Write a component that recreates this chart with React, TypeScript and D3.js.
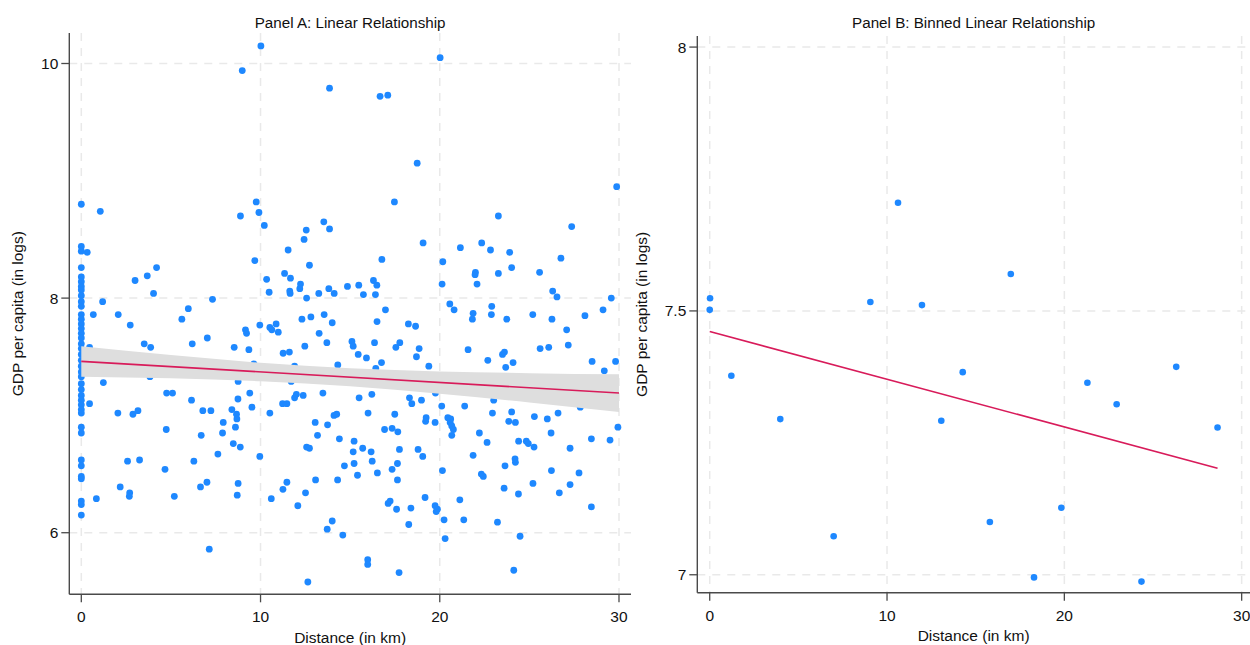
import { useEffect } from 'react';
import * as d3 from 'd3';

// Panel A: raw observations (distance in km, log GDP per capita)
const distA = [
  0, 0, 0, 0, 0, 0, 0, 0, 0, 0, 0, 0, 0, 0, 0, 0, 0, 0, 0, 0,
  0, 0, 0, 0, 0, 0, 0, 0, 0, 0, 0, 0, 0, 0, 0, 0, 0, 0, 0, 0,
  8.98, 1.06, 8.88, 9.76, 0.33, 9.68, 3.0, 3.68, 4.2, 4.03, 1.19, 7.32, 5.97, 0.67, 2.06, 5.61,
  2.73, 9.16, 9.22, 7.03, 3.51, 3.87, 6.19, 8.53, 9.35, 0.46, 1.23, 3.83, 8.75, 4.76, 5.09, 6.15, 8.74,
  9.4, 9.52, 0.46, 6.78, 7.23, 8.4, 8.66, 8.68, 2.04, 2.88, 3.16, 7.92, 8.6, 4.74, 7.88, 6.69, 8.48,
  8.87, 7.62, 2.58, 3.25, 6.28, 4.67, 2.17, 2.7, 2.68, 6.65, 7.01, 8.75, 8.7, 5.19, 0.84, 7.14,
  10.02, 20.02, 13.85, 16.67, 17.1, 18.74, 9.91, 10.21, 17.47, 13.53, 12.55, 13.85, 12.43, 11.54,
  19.07, 16.77, 12.73, 20.17, 10.34, 11.34, 11.67, 12.23, 12.19, 11.63, 11.65, 10.48, 12.57, 13.25,
  13.81, 14.11, 14.85, 15.48, 15.74, 16.3, 16.49, 16.41, 20.13, 16.97, 12.31, 12.81, 13.55, 16.5,
  9.96, 10.52, 10.63, 10.87, 10.99, 14.0, 13.27, 13.7, 12.47, 11.26, 11.61, 15.1, 15.17, 15.45, 15.91,
  16.36, 16.75, 17.55, 17.77, 18.25, 18.65, 18.85, 18.7, 19.39, 14.31, 16.43, 11.9, 9.63, 11.71, 11.9,
  12.0, 12.38, 11.23, 11.47, 13.48, 15.5, 16.21, 18.31, 18.44, 18.98, 19.76, 20.11, 10.52, 14.1, 14.25,
  16.0, 17.49, 19.24, 19.21, 19.74, 13.05, 13.74, 13.18, 16.92, 17.34, 17.66, 14.4, 15.22, 12.57, 12.73,
  15.7, 17.75, 18.79, 19.05, 9.96, 15.17, 16.17, 16.23, 15.22, 14.68, 17.64, 17.34, 15.41, 16.52, 13.07,
  14.3, 17.64, 20.15, 11.47, 11.25, 12.51, 10.6, 12.08, 19.18, 17.12, 17.23, 17.59, 18.39, 19.74, 19.87,
  19.8, 14.0, 13.72, 18.27, 14.59, 20.24, 20.3, 15.98, 15.98, 17.73, 12.64,
  29.87, 23.27, 27.36, 22.34, 21.15, 22.83, 23.9, 26.76, 24.01, 21.99, 21.97, 23.27, 25.57, 22.08,
  26.3, 26.54, 29.57, 20.56, 20.8, 22.9, 21.86, 21.82, 22.88, 23.74, 25.19, 26.26, 28.1, 29.11,
  27.08, 27.17, 21.58, 23.5, 23.61, 25.6, 26.08, 22.68, 24.09, 23.68, 28.5, 29.81, 29.18, 21.39, 23.01,
  27.84, 22.94, 24.01, 25.28, 26.0, 26.6, 20.45, 20.61, 20.58, 20.67, 20.76, 20.67, 23.85, 24.22, 29.94,
  22.21, 26.21, 22.64, 24.4, 24.83, 24.94, 25.26, 28.46, 29.5, 27.27, 21.86, 24.2, 24.22, 23.64, 22.32,
  22.43, 26.23, 27.77, 25.2, 27.27, 23.59, 24.39, 26.67, 21.12, 28.46, 21.34, 23.22, 24.48, 24.13,
];
const gdpA = [
  8.80, 8.44, 8.40, 8.26, 8.18, 8.14, 8.10, 8.07, 8.02, 7.97, 7.93, 7.86, 7.82, 7.78, 7.74, 7.70, 7.66, 7.61, 7.57, 7.52,
  7.47, 7.42, 7.37, 7.33, 7.27, 7.22, 7.17, 7.13, 7.09, 7.05, 7.02, 6.90, 6.85, 6.62, 6.57, 6.48, 6.46, 6.27, 6.24, 6.15,
  9.94, 8.74, 8.70, 8.82, 8.39, 8.32, 8.15, 8.19, 8.26, 8.04, 7.97, 7.99, 7.91, 7.86, 7.86, 7.82,
  7.77, 7.73, 7.70, 7.66, 7.61, 7.58, 7.61, 7.58, 7.56, 7.58, 7.28, 7.33, 7.29, 7.19, 7.19, 7.13, 7.14,
  7.19, 7.07, 7.10, 7.04, 7.04, 7.05, 7.01, 6.97, 7.02, 7.01, 7.04, 6.94, 6.90, 6.88, 6.85, 6.83, 6.76,
  6.73, 6.67, 6.61, 6.62, 6.61, 6.54, 6.39, 6.34, 6.31, 6.39, 6.43, 6.42, 6.32, 6.31, 6.29, 5.86,
  10.15, 10.05, 9.79, 9.72, 9.73, 9.15, 8.73, 8.62, 8.82, 8.65, 8.58, 8.59, 8.50, 8.41,
  8.47, 8.33, 8.28, 8.31, 8.16, 8.21, 8.17, 8.12, 8.08, 8.06, 8.04, 8.05, 8.00, 8.04,
  8.08, 8.04, 8.10, 8.11, 8.03, 8.15, 8.11, 8.03, 8.12, 7.90, 7.82, 7.84, 7.86, 7.80,
  7.77, 7.75, 7.73, 7.78, 7.71, 7.79, 7.70, 7.62, 7.59, 7.53, 7.54, 7.63, 7.59, 7.52, 7.49,
  7.62, 7.45, 7.58, 7.62, 7.78, 7.76, 7.57, 7.50, 7.42, 7.43, 7.40, 7.42, 7.44, 7.29, 7.15,
  7.18, 7.17, 7.10, 7.10, 7.19, 7.15, 7.18, 7.15, 7.10, 7.13, 7.19, 7.08, 7.02, 7.00, 7.01,
  7.02, 7.01, 6.98, 6.95, 6.94, 6.94, 6.92, 6.83, 6.88, 6.89, 6.86, 6.80, 6.78, 6.73, 6.72,
  6.72, 6.71, 6.71, 6.65, 6.65, 6.69, 6.69, 6.61, 6.59, 6.57, 6.59, 6.54, 6.49, 6.51, 6.45,
  6.45, 6.45, 6.53, 6.43, 6.37, 6.34, 6.29, 6.23, 6.30, 6.25, 6.27, 6.20, 6.21, 6.23, 6.20,
  6.18, 6.10, 6.03, 6.07, 5.98, 6.11, 5.95, 5.77, 5.73, 5.66, 5.58,
  8.95, 8.70, 8.61, 8.47, 8.43, 8.41, 8.39, 8.34, 8.26, 8.22, 8.20, 8.21, 8.22, 8.12,
  8.06, 8.01, 8.00, 7.95, 7.90, 7.93, 7.87, 7.82, 7.86, 7.82, 7.86, 7.82, 7.85, 7.90,
  7.73, 7.60, 7.56, 7.52, 7.54, 7.57, 7.58, 7.47, 7.45, 7.41, 7.46, 7.46, 7.38, 7.08, 7.13,
  7.07, 7.02, 7.03, 6.99, 6.97, 7.02, 6.98, 6.97, 6.94, 6.91, 6.88, 6.83, 6.95, 6.94, 6.90,
  6.85, 6.85, 6.77, 6.78, 6.78, 6.76, 6.73, 6.80, 6.79, 6.72, 6.66, 6.63, 6.60, 6.57, 6.50,
  6.48, 6.53, 6.51, 6.42, 6.41, 6.38, 6.33, 6.34, 6.28, 6.22, 6.11, 6.09, 5.97, 5.68,
];

// Panel A: fitted line and 95% confidence band
const fitAx = [0, 30];
const fitAy = [7.461, 7.191];
const bandX = [0, 5, 10, 15, 20, 25, 30];
const bandLo = [7.33, 7.316, 7.291, 7.248, 7.185, 7.11, 7.03];
const bandHi = [7.59, 7.514, 7.449, 7.402, 7.375, 7.36, 7.35];

// Panel B: binned means
const distB = [0.02, 0, 1.22, 3.98, 6.99, 9.06, 10.62, 11.97, 13.06, 14.27, 15.8, 16.98, 18.29, 19.83, 21.3, 22.95, 24.35, 26.31, 28.64];
const gdpB = [7.524, 7.502, 7.377, 7.295, 7.073, 7.517, 7.705, 7.511, 7.292, 7.384, 7.1, 7.57, 6.995, 7.127, 7.364, 7.323, 6.987, 7.394, 7.279];
const fitBx = [0, 28.64];
const fitBy = [7.461, 7.202];

const xTicks = [0, 10, 20, 30];
const yTicksA = [6, 8, 10];
const yTicksB = [7, 7.5, 8];

const DOT = '#1e88ff';
const FIT = '#d81b5a';
const AXIS = '#4a4a4a';
const GRID = '#e9e9e9';
const FONT = 'Liberation Sans, Arial, sans-serif';

type PanelProps = {
  title: string;
  left: number; right: number; top: number; bottom: number;
  xDomain: [number, number]; yDomain: [number, number];
  yTicks: number[]; yFmt: (v: number) => string;
  xs: number[]; ys: number[];
  fitX: number[]; fitY: number[];
  band?: boolean;
  yLabelX: number;
  r: number;
};

function Panel(p: PanelProps) {
  const x = d3.scaleLinear().domain(p.xDomain).range([p.left, p.right]);
  const y = d3.scaleLinear().domain(p.yDomain).range([p.bottom, p.top]);
  const pts = p.xs.map((d, i) => [d, p.ys[i]]);
  const area = d3.area<number>()
    .x((d) => x(d))
    .y0((_, i) => y(bandLo[i]))
    .y1((_, i) => y(bandHi[i]))
    .curve(d3.curveMonotoneX);
  const line = d3.line<number>().x((d) => x(d)).y((_, i) => y(p.fitY[i]));
  const midX = (p.left + p.right) / 2;
  const midY = (p.top + p.bottom) / 2;

  return (
    <g fontFamily={FONT}>
      {xTicks.map((t) => (
        <line key={'gx' + t} x1={x(t)} x2={x(t)} y1={p.top} y2={p.bottom} stroke={GRID} strokeWidth={1.5} strokeDasharray="8,7" />
      ))}
      {p.yTicks.map((t) => (
        <line key={'gy' + t} x1={p.left} x2={p.right} y1={y(t)} y2={y(t)} stroke={GRID} strokeWidth={1.5} strokeDasharray="8,7" />
      ))}
      {pts.map((d, i) => (
        <circle key={i} cx={x(d[0])} cy={y(d[1])} r={p.r} fill={DOT} />
      ))}
      {p.band && <path d={area(bandX) || ''} fill="#dedede" />}
      <path d={line(p.fitX) || ''} fill="none" stroke={FIT} strokeWidth={1.6} />
      <line x1={p.left} x2={p.left} y1={p.top} y2={p.bottom} stroke={AXIS} strokeWidth={1.4} />
      <line x1={p.left} x2={p.right} y1={p.bottom} y2={p.bottom} stroke={AXIS} strokeWidth={1.4} />
      {xTicks.map((t) => (
        <g key={'tx' + t}>
          <line x1={x(t)} x2={x(t)} y1={p.bottom} y2={p.bottom + 8} stroke={AXIS} strokeWidth={1.3} />
          <text x={x(t)} y={p.bottom + 28} textAnchor="middle" fontSize={15.5} fill="#111">{t}</text>
        </g>
      ))}
      {p.yTicks.map((t) => (
        <g key={'ty' + t}>
          <line x1={p.left - 8} x2={p.left} y1={y(t)} y2={y(t)} stroke={AXIS} strokeWidth={1.3} />
          <text x={p.left - 11} y={y(t) + 5.5} textAnchor="end" fontSize={15.5} fill="#111">{p.yFmt(t)}</text>
        </g>
      ))}
      <text x={midX} y={27.5} textAnchor="middle" fontSize={15.2} fill="#111">{p.title}</text>
      <text x={midX} y={p.bottom + 48.5} textAnchor="middle" fontSize={15.5} fill="#111">Distance (in km)</text>
      <text transform={`translate(${p.yLabelX},${midY}) rotate(-90)`} textAnchor="middle" fontSize={15.5} fill="#111">GDP per capita (in logs)</text>
    </g>
  );
}

export default function App() {
  useEffect(() => {
    document.body.style.margin = '0';
  }, []);
  return (
    <svg width={1250} height={645} style={{ display: 'block', background: '#fff' }}>
      <Panel
        title="Panel A: Linear Relationship"
        left={69.3} right={631} top={33} bottom={594.3}
        xDomain={[-0.67, 30.67]} yDomain={[5.475, 10.26]}
        yTicks={yTicksA} yFmt={(v) => String(v)}
        xs={distA} ys={gdpA} fitX={fitAx} fitY={fitAy} band
        yLabelX={23} r={3.4}
      />
      <Panel
        title="Panel B: Binned Linear Relationship"
        left={697.3} right={1250} top={36} bottom={592.7}
        xDomain={[-0.7, 30.47]} yDomain={[6.966, 8.021]}
        yTicks={yTicksB} yFmt={(v) => (v % 1 === 0 ? String(v) : v.toFixed(1))}
        xs={distB} ys={gdpB} fitX={fitBx} fitY={fitBy}
        yLabelX={647} r={3.3}
      />
    </svg>
  );
}
